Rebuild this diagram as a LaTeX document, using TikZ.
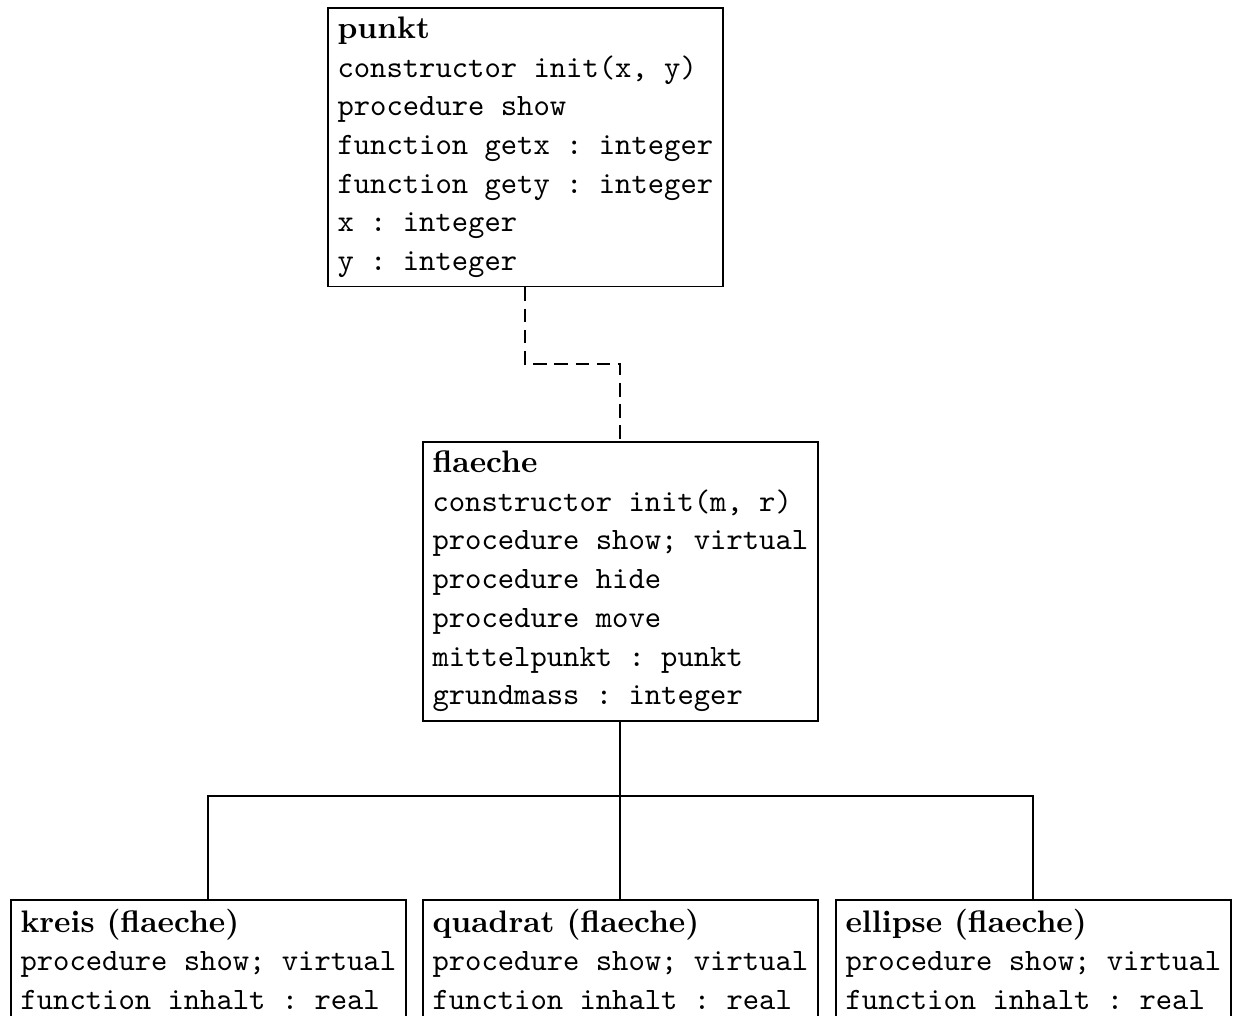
\documentclass[tikz,border=0pt]{standalone}
\usetikzlibrary{calc}
\begin{document}
\begin{tikzpicture}[x=0.3215pt,y=-0.3215pt,
  umlbox/.style={draw,line width=0.6pt,anchor=north west,align=left,
    inner xsep=3.1pt,inner ysep=2.85pt,
    font=\ttfamily\frenchspacing\fontsize{10}{12.44}\selectfont},
  conn/.style={line width=0.6pt},
  dconn/.style={line width=0.6pt,dash pattern=on 4.4pt off 2.4pt}]
\useasboundingbox (0,0) rectangle (1239,1015);
\clip (0,0) rectangle (1239,1015);
\node[umlbox] (punkt) at (327,7) {{\rmfamily\bfseries punkt}\\
constructor init(x, y)\\
procedure show\\
function getx : integer\\
function gety : integer\\
x : integer\\
y : integer};
\node[umlbox] (flaeche) at (422,441) {{\rmfamily\bfseries flaeche}\\
constructor init(m, r)\\
procedure show; virtual\\
procedure hide\\
procedure move\\
mittelpunkt : punkt\\
grundmass : integer};
\node[umlbox] (kreis) at (10,899) {{\rmfamily\bfseries kreis (flaeche)}\\
procedure show; virtual\\
function inhalt : real};
\node[umlbox] (quadrat) at (422,899) {{\rmfamily\bfseries quadrat (flaeche)}\\
procedure show; virtual\\
function inhalt : real};
\node[umlbox] (ellipse) at (835,899) {{\rmfamily\bfseries ellipse (flaeche)}\\
procedure show; virtual\\
function inhalt : real};
\coordinate (dm) at ($(punkt.south)!0.5!(flaeche.north)$);
\draw[dconn] (punkt.south) |- (dm) -| (flaeche.north);
\coordinate (j) at (flaeche.south |- 0,796);
\draw[conn] (flaeche.south) -- (quadrat.north);
\draw[conn] (kreis.north) |- (j) -| (ellipse.north);
\end{tikzpicture}
\end{document}
